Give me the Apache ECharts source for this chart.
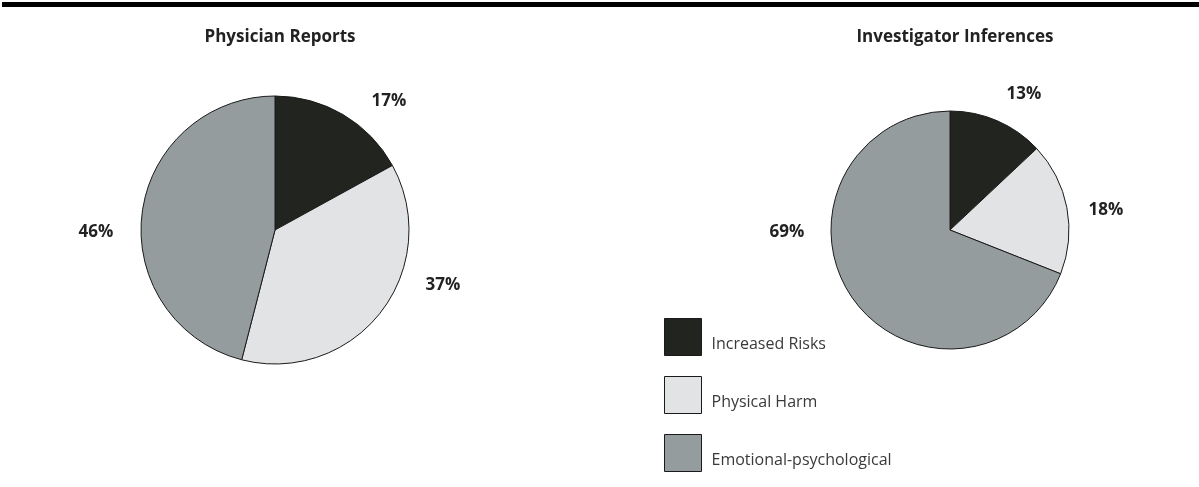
<!DOCTYPE html>
<html>
<head>
<meta charset="utf-8">
<script src="https://cdn.jsdelivr.net/npm/echarts@6/dist/echarts.min.js"></script>
<style>
html,body{margin:0;padding:0;background:#fff;}
#main{width:1199px;height:487px;}
</style>
</head>
<body>
<div id="main"></div>
<script>
var categories = ['Increased Risks', 'Physical Harm', 'Emotional-psychological'];
var physicianValues = [17, 37, 46];
var investigatorValues = [13, 18, 69];
var chartTitles = ['Physician Reports', 'Investigator Inferences'];

var colors = ['#22241f', '#e2e3e5', '#959c9d'];
// label centres
var labelPos = [
    [[389, 101], [443, 285], [96, 232]],
    [[1024, 94], [1106, 210], [787, 232]]
];

function toData(vals) {
    return vals.map(function (v, i) {
        return {name: categories[i], value: v, itemStyle: {color: colors[i]}};
    });
}

var main = document.getElementById('main');
var mychart = echarts.init(main);
var pieBase = {
    type: 'pie',
    startAngle: 90,
    clockwise: true,
    silent: true,
    itemStyle: {borderColor: '#1a1a1a', borderWidth: 1},
    label: {show: true, position: 'outside', formatter: '{c}%', fontFamily: 'Open Sans',
        fontWeight: 'bold', fontSize: 17, color: '#222'},
    labelLine: {show: false},
    labelLayout: function (p) {
        var xy = labelPos[p.seriesIndex][p.dataIndex];
        return {x: xy[0], y: xy[1], align: 'center', verticalAlign: 'middle'};
    },
    emphasis: {disabled: true}
};

var option = {
    animation: false,
    title: [
        {text: chartTitles[0], left: 275, top: 24, textAlign: 'center',
            textStyle: {fontFamily: 'Open Sans', fontWeight: 'bold', fontSize: 17, color: '#222'}},
        {text: chartTitles[1], left: 950, top: 24, textAlign: 'center',
            textStyle: {fontFamily: 'Open Sans', fontWeight: 'bold', fontSize: 17, color: '#222'}}
    ],
    legend: {
        data: categories, orient: 'vertical', left: 664, top: 318, padding: 0,
        itemWidth: 37, itemHeight: 37, itemGap: 20, icon: 'rect', selectedMode: false,
        itemStyle: {borderColor: '#1a1a1a', borderWidth: 1},
        formatter: '{t|{name}}',
        textStyle: {
            fontFamily: 'Open Sans', fontSize: 16, color: '#3a3a3a',
            rich: {t: {fontFamily: 'Open Sans', fontSize: 16, color: '#3a3a3a', padding: [14, 0, 0, 5]}}
        }
    },
    graphic: [{type: 'rect', shape: {x: 2, y: 2, width: 1197, height: 5}, style: {fill: '#000'}}],
    series: [
        Object.assign({}, pieBase, {name: chartTitles[0], center: [275, 230], radius: 134, data: toData(physicianValues)}),
        Object.assign({}, pieBase, {name: chartTitles[1], center: [950, 230], radius: 119, data: toData(investigatorValues)})
    ]
};
mychart.setOption(option);
</script>
</body>
</html>
